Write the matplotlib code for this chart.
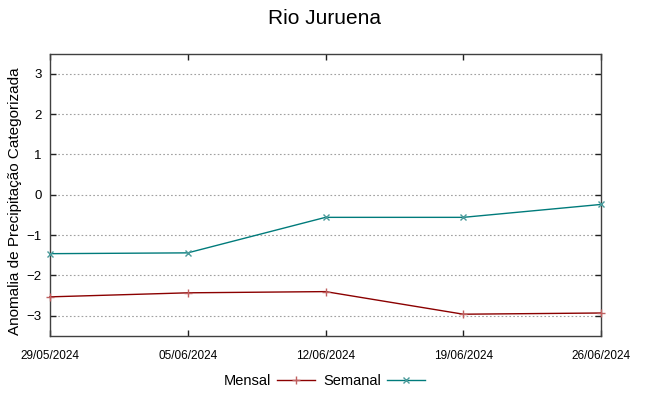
#!/usr/bin/env python3
"""Rio Juruena: categorized precipitation anomaly, monthly vs weekly."""

from datetime import datetime

import matplotlib

matplotlib.use("Agg")
import matplotlib.dates as mdates
import matplotlib.pyplot as plt
from matplotlib.lines import Line2D

TITLE = "Rio Juruena"
YLABEL = "Anomalia de Precipitação Categorizada"

DATES = ["29/05/2024", "05/06/2024", "12/06/2024", "19/06/2024", "26/06/2024"]
MENSAL = [-2.53, -2.43, -2.40, -2.96, -2.93]
SEMANAL = [-1.46, -1.44, -0.56, -0.56, -0.24]
YTICKS = [-3, -2, -1, 0, 1, 2, 3]

RED = "#8b0000"
TEAL = "#007b7b"

plt.rcParams["font.family"] = ["Liberation Sans", "DejaVu Sans"]

x = [datetime.strptime(d, "%d/%m/%Y") for d in DATES]

fig = plt.figure(figsize=(6.49, 3.96), dpi=100)
ax = fig.add_axes([50 / 649, 1 - 336 / 396, 551 / 649, (336 - 53.5) / 396])

ax.plot(x, MENSAL, color=RED, lw=1.0, marker="+", ms=6, mew=1.0, mec="#c06060", clip_on=False, zorder=3)
ax.plot(x, SEMANAL, color=TEAL, lw=1.0, marker="x", ms=4.5, mew=1.0, mec="#4a9a9a", clip_on=False, zorder=3)

ax.set_xlim(x[0], x[-1])
ax.set_ylim(-3.5, 3.5)
ax.set_xticks(x)
ax.xaxis.set_major_formatter(mdates.DateFormatter("%d/%m/%Y"))
ax.set_yticks(YTICKS)
ax.grid(axis="y", color="#a0a0a0", lw=0.8, linestyle=(0, (1.5, 2.0)))

for spine in ax.spines.values():
    spine.set_color("#404040")
    spine.set_linewidth(1.0)
ax.tick_params(axis="both", direction="in", top=True, right=True, length=4, width=1.0, color="#202020")
ax.tick_params(axis="y", labelsize=9.5, pad=6)
ax.tick_params(axis="x", labelsize=8.5, pad=10)

ax.set_ylabel(YLABEL, fontsize=11)
ax.yaxis.set_label_coords(-0.05, 0.478)

fig.text(0.5, 1 - 19 / 396, TITLE, ha="center", va="center", fontsize=15)

handles = [
    Line2D([], [], color=RED, lw=1.0, marker="+", ms=6, mew=1.0, mec="#c06060"),
    Line2D([], [], color=TEAL, lw=1.0, marker="x", ms=4.5, mew=1.0, mec="#4a9a9a"),
]
fig.legend(
    handles,
    ["Mensal", "Semanal"],
    loc="center",
    bbox_to_anchor=(0.5, 1 - 381 / 396),
    ncol=2,
    frameon=False,
    markerfirst=False,
    handlelength=2.6,
    handletextpad=0.4,
    columnspacing=0.6,
    prop={"size": 10.5},
)

fig.savefig("out.png", dpi=100)
